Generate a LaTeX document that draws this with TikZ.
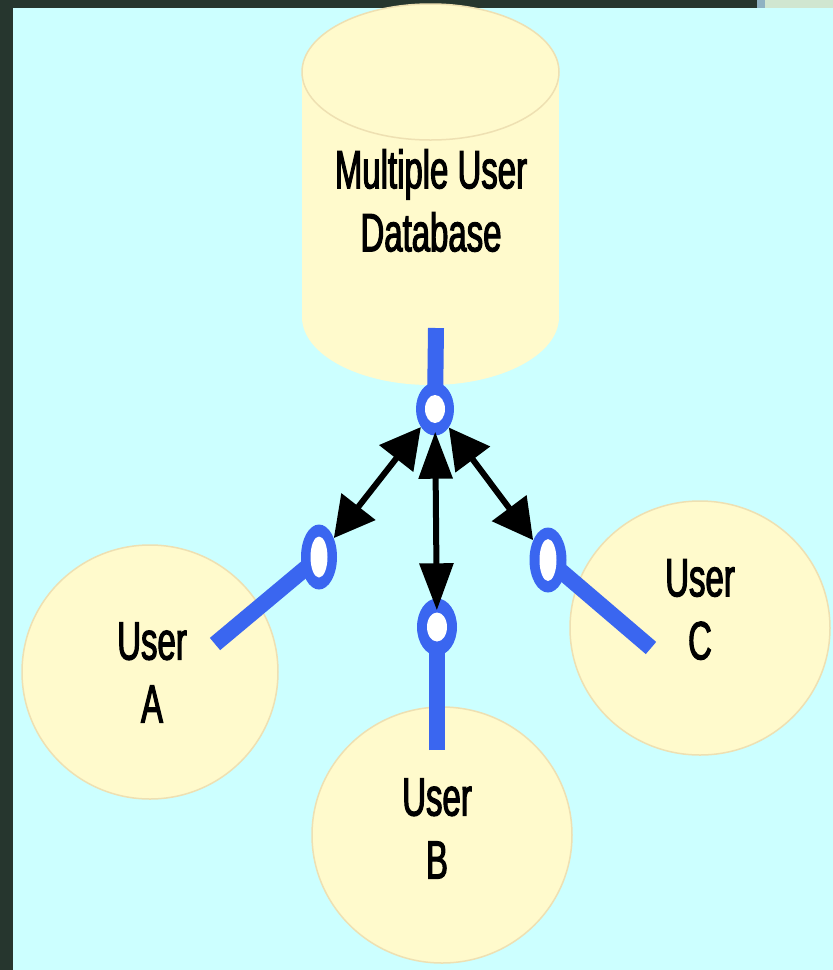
\documentclass[tikz,border=0pt]{standalone}
\usepackage{fontspec}
\newfontfamily\lblfont[FakeStretch=0.61,FakeBold=2]{Liberation Sans}
\usetikzlibrary{arrows.meta,shapes.geometric}
\definecolor{skybg}{HTML}{CCFFFF}
\definecolor{framedark}{HTML}{26362E}
\definecolor{cornerpale}{HTML}{D0E6D0}
\definecolor{cornerstrip}{HTML}{8FB2C2}
\definecolor{cream}{HTML}{FFFACC}
\definecolor{creamedge}{HTML}{EEE0B2}
\definecolor{linkblue}{HTML}{3A66F0}
\begin{document}
\begin{tikzpicture}[x=1pt,y=-1pt,
  lbl/.style={font=\lblfont\fontsize{54}{63}\selectfont, align=center, inner sep=0pt, text=black},
  userbub/.style={ellipse, fill=cream, draw=creamedge, line width=1.5pt, inner sep=0pt},
  % blue ring: outer size set per node, hole radii given as arguments
  ring/.style n args={2}{ellipse, fill=linkblue, inner sep=0pt,
    path picture={\fill[white] (path picture bounding box.center) ellipse[x radius=#1, y radius=#2];}},
  bar/.style={draw=linkblue, line width=16pt},
  dbl/.style={draw=black, line width=6pt},
  vtip/.style={{Triangle[length=47pt,width=33pt]}-{Triangle[length=47pt,width=33pt]}},
  dtip/.style={{Triangle[length=40pt,width=42pt]}-{Triangle[length=40pt,width=42pt]}}
]
\useasboundingbox (0,0) rectangle (833,970);
% page frame and background
\fill[framedark] (0,0) rectangle (833,970);
\fill[skybg] (13,8) rectangle (833,970);
\fill[cornerstrip] (757,0) rectangle (765,8);
\fill[cornerpale] (765,0) rectangle (833,8);

% database cylinder
\fill[cream] (302,72) rectangle (559,317);
\fill[cream] (430.5,317) ellipse[x radius=128.5, y radius=68];
\filldraw[fill=cream, draw=creamedge, line width=1.5pt] (430.5,72) ellipse[x radius=128.5, y radius=68];
\node[lbl] (db) at (431,200.5) {Multiple User\\Database};

% user bubbles
\node[userbub, minimum width=256pt, minimum height=254pt] (userA) at (150,672) {};
\node[userbub, minimum width=260pt, minimum height=256pt] (userB) at (442,835) {};
\node[userbub, minimum width=260pt, minimum height=254pt] (userC) at (700,628) {};
\node[lbl] (userAtxt) at (152,672.5) {User\\A};
\node[lbl] (userBtxt) at (437,828.5) {User\\B};
\node[lbl] (userCtxt) at (700,609.5) {User\\C};

% connection ports and stems
\coordinate (dbport) at (436,328);
\coordinate (aport) at (215,644);
\coordinate (bport) at (437,750);
\coordinate (cport) at (651,648);
\coordinate (hubc) at (435,409);
\coordinate (ringAc) at (319,557);
\coordinate (ringBc) at (437,627);
\coordinate (ringCc) at (548,560);
\draw[bar] (dbport) -- (hubc);
\draw[bar] (aport) -- (ringAc);
\draw[bar] (bport) -- (ringBc);
\draw[bar] (cport) -- (ringCc);

% rings on top of the stems
\node[ring={10pt}{14pt}, minimum width=38pt, minimum height=53pt] (hub) at (hubc) {};
\node[ring={8.5pt}{20.5pt}, minimum width=36pt, minimum height=65pt] (ringA) at (ringAc) {};
\node[ring={10pt}{14.5pt}, minimum width=40pt, minimum height=57pt] (ringB) at (ringBc) {};
\node[ring={8.5pt}{21pt}, minimum width=37pt, minimum height=65pt] (ringC) at (ringCc) {};

% two-way links
\draw[dbl, dtip] (hub) -- (ringA);
\draw[dbl, vtip, shorten <=-4pt, shorten >=-12pt] (hub) -- (ringB);
\draw[dbl, dtip] (hub) -- (ringC);
\end{tikzpicture}
\end{document}
